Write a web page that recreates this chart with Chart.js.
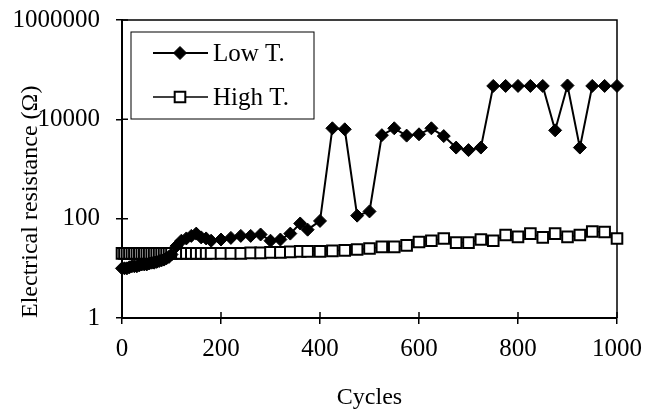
<!DOCTYPE html>
<html lang="en">
<head>
<meta charset="UTF-8">
<title>Electrical resistance vs cycles</title>
<script src="https://cdn.jsdelivr.net/npm/chart.js"></script>
<style>
    html, body { margin: 0; padding: 0; background: #fff; }
    #wrap { width: 653px; height: 417px; }
</style>
</head>
<body>
<div id="wrap"><canvas id="resChart" width="653" height="417"></canvas></div>
<script>
    // cycle numbers where resistance was read
    const cycles = [
        0, 5, 10, 15, 20, 25, 30, 35, 40, 45, 50, 55, 60, 65, 70, 75, 80, 85, 90, 95, 100,
        110, 120, 130, 140, 150, 160, 170, 180,
        200, 220, 240, 260, 280, 300, 320, 340, 360,
        375, 400, 425, 450, 475, 500, 525, 550, 575, 600, 625, 650, 675, 700,
        725, 750, 775, 800, 825, 850, 875, 900, 925, 950, 975, 1000
    ];
    // resistance (ohm), low temperature
    const lowT = [
        10, 10, 10, 10.5, 11, 11, 11, 11.5, 12, 12, 12, 12.5, 13, 13, 13.5, 14, 14.5, 15, 16, 17, 19,
        28, 36, 40, 45, 50, 42, 40, 36,
        38, 41, 45, 45, 48, 36, 38, 50, 80,
        60, 90, 6600, 6300, 115, 140, 4800, 6600, 4700, 5000, 6600, 4600, 2700, 2400,
        2700, 47000, 47000, 47000, 47000, 47000, 6000, 48000, 2700, 47000, 47000, 47000
    ];
    // resistance (ohm), high temperature
    const highT = [
        20, 20, 20, 20, 20, 20, 20, 20, 20, 20, 20, 20, 20, 20, 20, 20, 20, 20, 20, 20, 20,
        20, 20, 20, 20, 20, 20, 20, 20,
        20, 20, 20, 20.5, 20.5, 21, 21, 21.5, 22,
        22, 22, 22.5, 23, 24, 25, 27, 27, 29, 34, 36, 40, 33, 33,
        38, 36, 47, 43, 50, 42, 50, 43, 47, 55, 54, 40
    ];
    const yTicks = [1, 100, 10000, 1000000];
    const xTicks = [0, 200, 400, 600, 800, 1000];

    const serif = '"Liberation Serif", "Times New Roman", serif';

    // top/right frame lines, inner half of the crossing tick marks, legend box
    const framePlugin = {
        id: 'frame',
        beforeDatasetsDraw(chart) {
            const { ctx, chartArea: a, scales } = chart;
            ctx.save();
            ctx.strokeStyle = '#000';
            ctx.lineWidth = 1.5;
            ctx.beginPath();
            ctx.moveTo(a.left, a.top);
            ctx.lineTo(a.right, a.top);
            ctx.lineTo(a.right, a.bottom);
            ctx.stroke();
            ctx.beginPath();
            xTicks.forEach(v => {
                const x = scales.x.getPixelForValue(v);
                ctx.moveTo(x, a.bottom);
                ctx.lineTo(x, a.bottom - 6);
            });
            yTicks.forEach(v => {
                const y = scales.y.getPixelForValue(v);
                ctx.moveTo(a.left, y);
                ctx.lineTo(a.left + 6, y);
            });
            ctx.stroke();
            ctx.restore();
        },
        afterDraw(chart) {
            const { ctx, chartArea: a } = chart;
            const bx = a.left + 9, by = a.top + 12, bw = 183, bh = 87;
            ctx.save();
            ctx.fillStyle = '#fff';
            ctx.fillRect(bx, by, bw, bh);
            ctx.strokeStyle = '#000';
            ctx.lineWidth = 1;
            ctx.strokeRect(bx, by, bw, bh);
            chart.data.datasets.forEach((ds, i) => {
                const y = by + 21 + i * 44;
                ctx.strokeStyle = ds.borderColor;
                ctx.lineWidth = ds.borderWidth;
                ctx.beginPath();
                ctx.moveTo(bx + 22, y);
                ctx.lineTo(bx + 77, y);
                ctx.stroke();
                ctx.fillStyle = ds.pointBackgroundColor;
                ctx.strokeStyle = ds.pointBorderColor;
                ctx.lineWidth = ds.pointBorderWidth;
                Chart.helpers.drawPoint(ctx, {
                    pointStyle: ds.pointStyle,
                    radius: ds.pointRadius,
                    borderWidth: ds.pointBorderWidth,
                    rotation: 0
                }, bx + 49, y);
                ctx.font = '25px ' + serif;
                ctx.textBaseline = 'middle';
                ctx.fillStyle = '#000';
                ctx.fillText(ds.label, bx + 82, y + 1);
            });
            ctx.restore();
        }
    };

    const data = {
        datasets: [
            {
                label: 'Low T.',
                data: cycles.map((c, i) => ({ x: c, y: lowT[i] })),
                borderColor: '#000',
                borderWidth: 2,
                pointStyle: 'rectRot',
                pointRadius: 6.5,
                pointBorderWidth: 1,
                pointBackgroundColor: '#000',
                pointBorderColor: '#000',
                clip: false
            },
            {
                label: 'High T.',
                data: cycles.map((c, i) => ({ x: c, y: highT[i] })),
                borderColor: '#000',
                borderWidth: 1.5,
                pointStyle: 'rect',
                pointRadius: 7.5,
                pointBorderWidth: 2,
                pointBackgroundColor: '#fff',
                pointBorderColor: '#000',
                clip: false
            }
        ]
    };

    const config = {
        type: 'line',
        data: data,
        plugins: [framePlugin],
        options: {
            responsive: false,
            animation: false,
            layout: { padding: { left: 0, right: 36, top: 20, bottom: 0 } },
            plugins: {
                legend: { display: false },
                tooltip: { enabled: false }
            },
            scales: {
                x: {
                    type: 'linear',
                    min: 0,
                    max: 1000,
                    afterFit(scale) {
                        scale.height = 99;
                        scale.paddingLeft = 0;
                        scale.paddingRight = 0;
                    },
                    afterBuildTicks(scale) { scale.ticks = xTicks.map(v => ({ value: v })); },
                    grid: { drawOnChartArea: false, tickLength: 6, color: '#000', lineWidth: 1.5 },
                    border: { color: '#000', width: 2 },
                    ticks: {
                        color: '#000',
                        padding: 10,
                        maxRotation: 0,
                        font: { family: serif, size: 25 },
                        callback: v => String(v)
                    },
                    title: {
                        display: true,
                        text: 'Cycles',
                        color: '#000',
                        font: { family: serif, size: 24 },
                        padding: { top: 0, bottom: 5 }
                    }
                },
                y: {
                    type: 'logarithmic',
                    min: 1,
                    max: 1000000,
                    afterFit(scale) {
                        scale.width = 122;
                        scale.paddingTop = 0;
                        scale.paddingBottom = 0;
                    },
                    afterBuildTicks(scale) { scale.ticks = yTicks.map(v => ({ value: v })); },
                    grid: { drawOnChartArea: false, tickLength: 6, color: '#000', lineWidth: 1.5 },
                    border: { color: '#000', width: 2 },
                    ticks: {
                        color: '#000',
                        padding: 16,
                        font: { family: serif, size: 25 },
                        callback: v => String(v)
                    },
                    title: {
                        display: true,
                        text: 'Electrical resistance (Ω)',
                        align: 'start',
                        color: '#000',
                        font: { family: serif, size: 24 },
                        padding: { top: 16, bottom: 0 }
                    }
                }
            }
        }
    };

    new Chart(document.getElementById('resChart').getContext('2d'), config);
</script>
</body>
</html>
